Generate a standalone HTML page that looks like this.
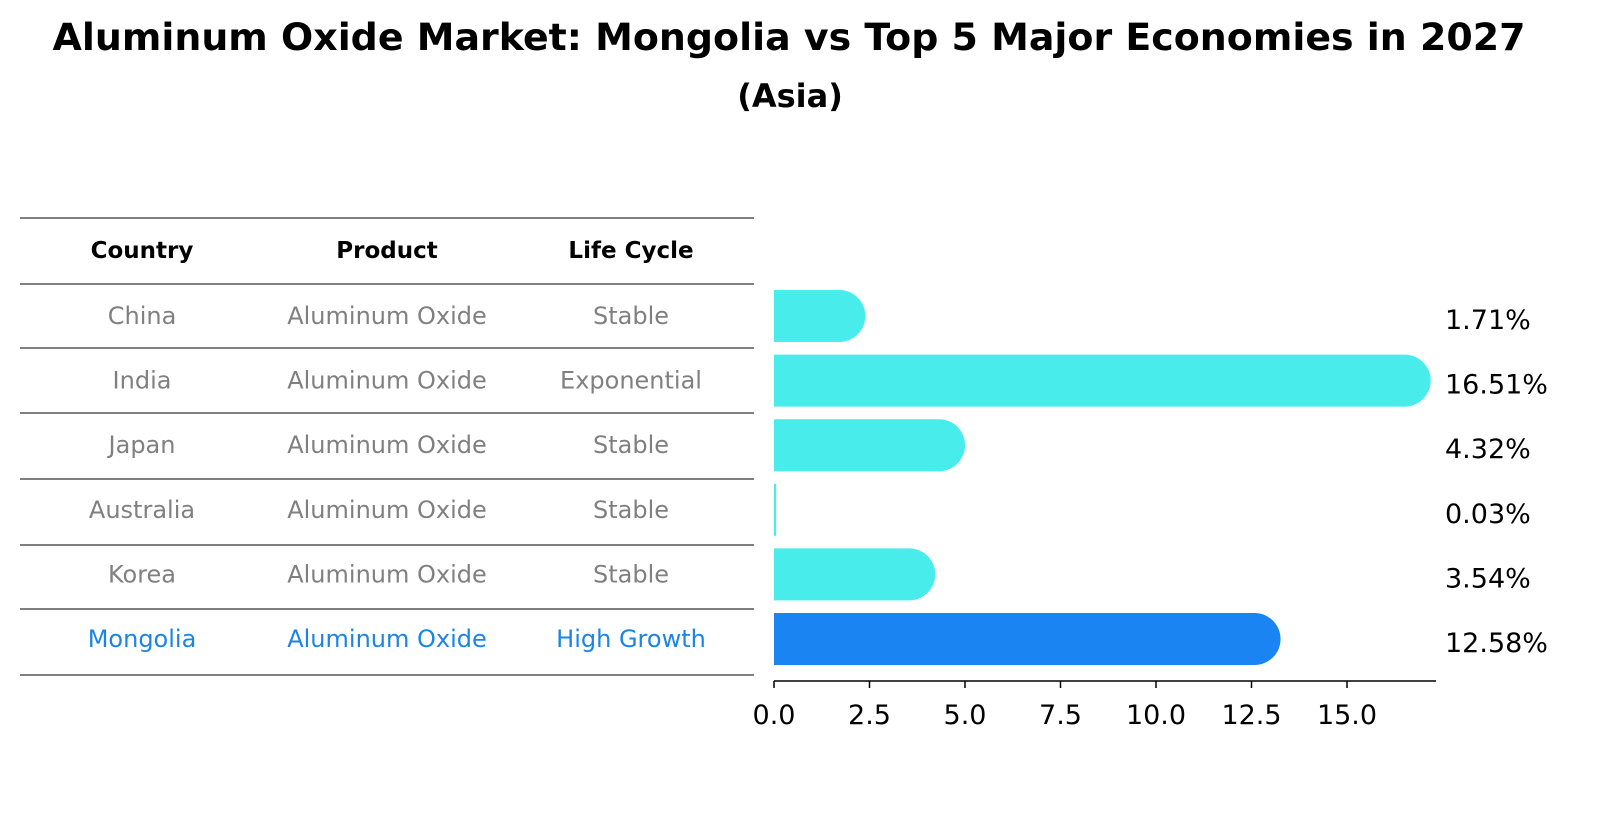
<!DOCTYPE html>
<html><head><meta charset="utf-8"><style>
body{margin:0;background:#fff;font-family:"Liberation Sans","DejaVu Sans",sans-serif;}
</style></head><body>
<svg width="1604" height="823" xmlns="http://www.w3.org/2000/svg" font-family="DejaVu Sans, Liberation Sans, sans-serif">
<text x="789" y="50" text-anchor="middle" font-size="37" font-weight="bold" textLength="1473" lengthAdjust="spacingAndGlyphs">Aluminum Oxide Market: Mongolia vs Top 5 Major Economies in 2027</text>
<text x="790" y="107" text-anchor="middle" font-size="32" font-weight="bold">(Asia)</text>
<g id="table"></g>
<g id="bars"></g>
</svg>
<script>
const countries=["China","India","Japan","Australia","Korea","Mongolia"];
const products=["Aluminum Oxide","Aluminum Oxide","Aluminum Oxide","Aluminum Oxide","Aluminum Oxide","Aluminum Oxide"];
const lifeCycles=["Stable","Exponential","Stable","Stable","Stable","High Growth"];
const values=[1.71,16.51,4.32,0.03,3.54,12.58];
const valueLabels=["1.71%","16.51%","4.32%","0.03%","3.54%","12.58%"];
const ticks=[0,2.5,5,7.5,10,12.5,15];
const tickLabels=["0.0","2.5","5.0","7.5","10.0","12.5","15.0"];
const NS="http://www.w3.org/2000/svg";
function mk(t,a,p,txt){const e=document.createElementNS(NS,t);for(const k in a)e.setAttribute(k,a[k]);if(txt!==undefined)e.textContent=txt;p.appendChild(e);return e;}
const x=v=>774+v*38.2;
const rowY=i=>316+i*64.6;
const tb=document.getElementById('table');
const lines=[218,284,348,413,479,545,609,675];
lines.forEach((ly,i)=>{const l=mk('line',{x1:20,x2:754,y1:ly,y2:ly,stroke:'#000','stroke-width':1},tb);

});
const colX=[142,387,631];
["Country","Product","Life Cycle"].forEach((h,j)=>{const t=mk('text',{x:colX[j],y:258,'text-anchor':'middle','font-size':23,'font-weight':'bold'},tb,h);

});
countries.forEach((c,i)=>{const col=i===5?'#1a85e6':'#808080';const cy=rowY(i)+8;
[c,products[i],lifeCycles[i]].forEach((s,j)=>{const t=mk('text',{x:colX[j],y:cy,'text-anchor':'middle','font-size':24,fill:col},tb,s);

});});
const bg=document.getElementById('bars');
const h=52,r=26;
values.forEach((v,i)=>{const col=i===5?'#1a85f2':'#48ecea';const y0=rowY(i)-h/2;const x1=x(v);
let d;
if(v<0.5){d=`M774 ${y0} H${x1+1} V${y0+h} H774 Z`;}
else d=`M774 ${y0} H${x1} A${r} ${r} 0 0 1 ${x1} ${y0+h} H774 Z`;
const p=mk('path',{d:d,fill:col},bg);


const t=mk('text',{x:1445,y:rowY(i)+13,'font-size':27},bg,valueLabels[i]);

});
const ax=mk('line',{x1:774,x2:1436,y1:681,y2:681,stroke:'#000','stroke-width':1.5},bg);


ticks.forEach((v,i)=>{const tk=mk('line',{x1:x(v),x2:x(v),y1:681,y2:688,stroke:'#000','stroke-width':1.5},bg);


const t=mk('text',{x:x(v),y:724,'text-anchor':'middle','font-size':27},bg,tickLabels[i]);

});
</script>
</body></html>
